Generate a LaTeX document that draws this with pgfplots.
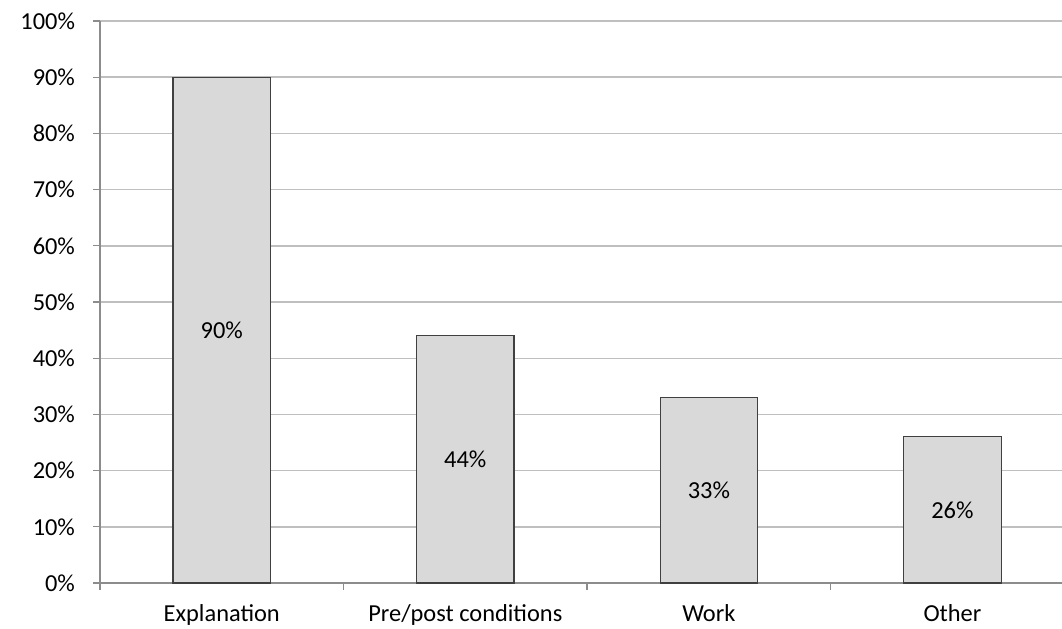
\documentclass[border=0pt]{standalone}
\usepackage{pgfplots}
\pgfplotsset{compat=1.18}
\usepackage{fontspec}
\setmainfont{Carlito}
\definecolor{barfill}{HTML}{D9D9D9}
\definecolor{baredge}{HTML}{404040}
\definecolor{gridc}{HTML}{BFBFBF}
\definecolor{axisc}{HTML}{8C8C8C}
\begin{document}
\begin{tikzpicture}
\path[use as bounding box] (0pt,0pt) rectangle (531pt,314pt);
\begin{axis}[
  at={(50pt,22.5pt)}, anchor=south west,
  width=481pt, height=281pt, scale only axis,
  xmin=-0.5, xmax=3.45, ymin=0, ymax=100,
  axis lines*=left,
  axis line style={draw=axisc, line width=0.6pt},
  ytick={0,10,...,100},
  yticklabel={\pgfmathprintnumber{\tick}\%},
  /pgf/number format/assume math mode=true,
  ymajorgrids, major grid style={draw=gridc, line width=0.7pt},
  xtick={0,1,2,3},
  xticklabels={Explanation,Pre/post conditions,Work,Other},
  minor xtick={-0.5,0.5,1.5,2.5},
  tick align=outside,
  major x tick style={draw=none},
  minor x tick style={draw=axisc, line width=0.6pt},
  major y tick style={draw=axisc, line width=0.6pt},
  major tick length=3.5pt, minor tick length=3.5pt,
  tick label style={font=\fontsize{12.2pt}{14pt}\selectfont, text=black},
  yticklabel style={xshift=-5.5pt},
  xticklabel style={yshift=-3.8pt},
  clip=false,
]
\addplot[ybar, bar width=0.4, fill=barfill, draw=baredge, line width=0.6pt]
  coordinates {(0,90) (1,44) (2,33) (3,26)};
\addplot[draw=none, mark=none, nodes near coords, point meta=explicit symbolic,
  nodes near coords align={center},
  every node near coord/.append style={font=\fontsize{12.2pt}{14pt}\selectfont, text=black, anchor=center}]
  coordinates {(0,45)[90\%] (1,22)[44\%] (2,16.5)[33\%] (3,13)[26\%]};
\end{axis}
\end{tikzpicture}
\end{document}
